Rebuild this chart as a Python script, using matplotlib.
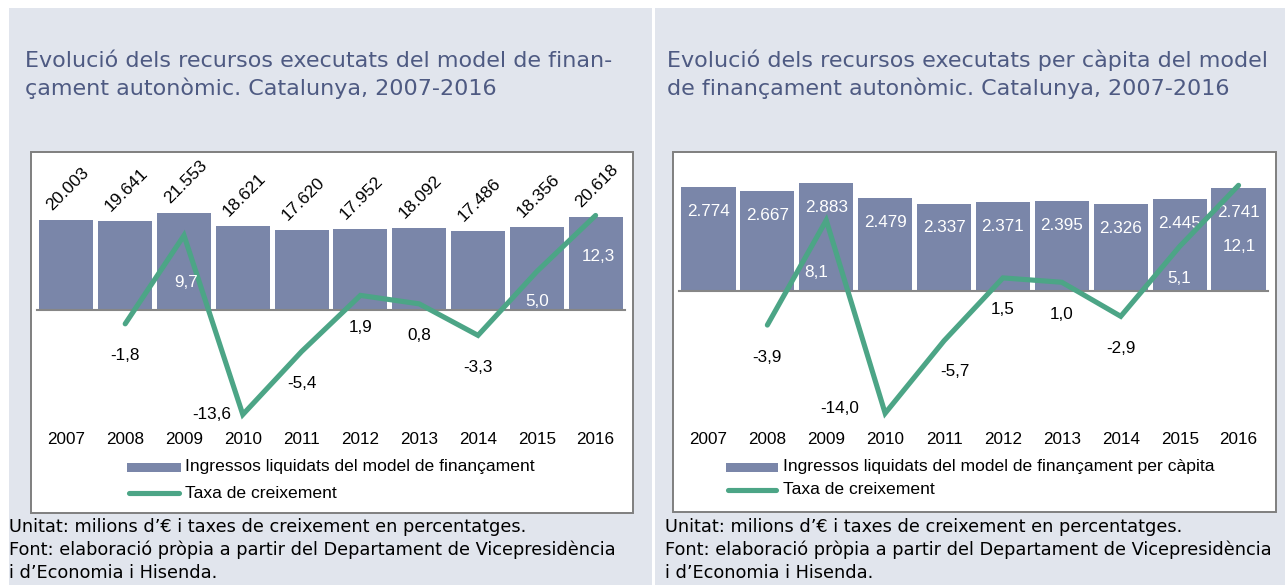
import numpy as np
import matplotlib
matplotlib.use('Agg')
import matplotlib.pyplot as plt
from matplotlib.patches import Rectangle
from matplotlib.lines import Line2D

plt.rcParams['font.family'] = ['Liberation Sans', 'DejaVu Sans']

# ── data ──────────────────────────────────────────────────────────────────────
YEARS = [2007, 2008, 2009, 2010, 2011, 2012, 2013, 2014, 2015, 2016]

total_income = [20003, 19641, 21553, 18621, 17620, 17952, 18092, 17486, 18356, 20618]
total_growth = [np.nan, -1.8, 9.7, -13.6, -5.4, 1.9, 0.8, -3.3, 5.0, 12.3]

capita_income = [2774, 2667, 2883, 2479, 2337, 2371, 2395, 2326, 2445, 2741]
capita_growth = [np.nan, -3.9, 8.1, -14.0, -5.7, 1.5, 1.0, -2.9, 5.1, 12.1]

TITLE_L = ['Evolució dels recursos executats del model de finan-',
           'çament autonòmic. Catalunya, 2007-2016']
TITLE_R = ['Evolució dels recursos executats per càpita del model',
           'de finançament autonòmic. Catalunya, 2007-2016']
LEG_BAR_L = 'Ingressos liquidats del model de finançament'
LEG_BAR_R = 'Ingressos liquidats del model de finançament per càpita'
LEG_LINE = 'Taxa de creixement'
NOTES = ['Unitat: milions d\u2019€ i taxes de creixement en percentatges.',
         'Font: elaboració pròpia a partir del Departament de Vicepresidència',
         'i d\u2019Economia i Hisenda.']

# ── style ─────────────────────────────────────────────────────────────────────
W, H = 1285, 585
PANEL_BG = '#E1E5ED'
BAR_C = '#7A86A9'
LINE_C = '#4CA586'
TITLE_C = '#4E5A82'
FS = 12.3

def fx(x):
    return x / W

def fy(y):
    return 1 - y / H

def rect(fig, x0, y0, x1, y1, **kw):
    fig.add_artist(Rectangle((fx(x0), fy(y1)), (x1 - x0) / W, (y1 - y0) / H,
                             transform=fig.transFigure, **kw))

def fmt_int(v):
    return f'{v:,}'.replace(',', '.')

def fmt_dec(v):
    return f'{v:.1f}'.replace('.', ',')

fig = plt.figure(figsize=(W / 100, H / 100), dpi=100, facecolor='white')

rect(fig, 9, 8, 652, 585, facecolor=PANEL_BG, edgecolor='none', zorder=-10)
rect(fig, 655, 8, 1285, 585, facecolor=PANEL_BG, edgecolor='none', zorder=-10)


def panel(px, title, income, growth, box, area, ylim1, ylim2,
          rotated, bar_leg, leg_x, leg_y, lab_fix, note_x):
    # titles and box
    for i, line in enumerate(title):
        fig.text(fx(px), fy(67 + 28 * i), line, fontsize=16.0, color=TITLE_C,
                 family='DejaVu Sans', ha='left', va='baseline')
    bx0, by0, bx1, by1 = box
    rect(fig, bx0, by0, bx1, by1, facecolor='white', edgecolor='#7F7F7F',
         linewidth=1.4, zorder=-5)

    x0, y0, x1, y1 = area
    ax = fig.add_axes([fx(x0), fy(y1), (x1 - x0) / W, (y1 - y0) / H])
    ax2 = ax.twinx()
    for a in (ax, ax2):
        a.patch.set_visible(False)
        for s in a.spines.values():
            s.set_visible(False)
        a.set_yticks([])
    ax.set_xlim(-0.5, len(YEARS) - 0.5)
    ax.set_ylim(*ylim1)
    ax2.set_ylim(*ylim2)

    x = np.arange(len(YEARS))
    ax.bar(x, income, width=0.92, color=BAR_C, edgecolor='none', zorder=2)

    ax.spines['bottom'].set_visible(True)
    ax.spines['bottom'].set_position(('data', 0))
    ax.spines['bottom'].set_color('#868686')
    ax.spines['bottom'].set_linewidth(1.5)
    ax.spines['bottom'].set_zorder(3)
    ax.set_xticks(np.arange(-0.5, len(YEARS), 1))
    ax.tick_params(axis='x', length=4, width=1.5, color='#868686',
                   labelbottom=False, direction='out')
    ax2.set_xticks([])

    tr = ax.get_xaxis_transform()
    for i, yr in enumerate(YEARS):
        ax.annotate(str(yr), xy=(i, 0), xycoords=tr,
                    xytext=(0, -(440 - y1) * 0.72), textcoords='offset points',
                    ha='center', va='center', fontsize=FS)

    for i, v in enumerate(income):
        if rotated:
            ax.annotate(fmt_int(v), xy=(i, v), xytext=(1, 5),
                        textcoords='offset points', rotation=45,
                        ha='center', va='bottom', fontsize=12.6)
        else:
            ax.annotate(fmt_int(v), xy=(i, v), xytext=(0, -17.5),
                        textcoords='offset points', ha='center', va='center',
                        fontsize=FS, color='white')

    ax2.plot(x, growth, color=LINE_C, linewidth=3.7,
             solid_joinstyle='miter', solid_capstyle='round', zorder=4)
    for i, g in enumerate(growth):
        if np.isnan(g):
            continue
        dx, dy = lab_fix.get(YEARS[i], (0, -32))
        ax2.annotate(fmt_dec(g), xy=(i, g), xytext=(dx * 0.72, dy * 0.72),
                     textcoords='offset points', ha='center', va='center',
                     fontsize=FS, color='white' if g > 3 else 'black', zorder=5)

    # legend
    lx, tx = leg_x
    rect(fig, lx[0], leg_y[0] - 4.5, lx[1], leg_y[0] + 4.5, facecolor=BAR_C,
         edgecolor='none', zorder=2)
    fig.add_artist(Line2D([fx(lx[0] + 2), fx(lx[1] - 2)], [fy(leg_y[1])] * 2,
                          transform=fig.transFigure, color=LINE_C,
                          linewidth=3.7, solid_capstyle='round'))
    fig.text(fx(tx), fy(leg_y[0]), bar_leg, fontsize=12.6, ha='left', va='center')
    fig.text(fx(tx), fy(leg_y[1]), LEG_LINE, fontsize=12.6, ha='left', va='center')

    for i, line in enumerate(NOTES):
        fig.text(fx(note_x), fy(527 + 23 * i), line, fontsize=12.8,
                 family='DejaVu Sans', ha='left', va='center')


panel(25, TITLE_L, total_income, total_growth,
      box=(31, 152, 633, 513), area=(37, 197, 625, 423),
      ylim1=(-25000, 25000), ylim2=(-14.7, 14.7), rotated=True,
      bar_leg=LEG_BAR_L, leg_x=((127, 181), 185), leg_y=(467, 493),
      lab_fix={2009: (2, -47), 2010: (-31, 0), 2016: (3, -41), 2015: (0, -30)},
      note_x=9)

panel(667, TITLE_R, capita_income, capita_growth,
      box=(673, 152, 1276, 512), area=(679, 160, 1268, 422),
      ylim1=(-3500, 3500), ylim2=(-15, 15), rotated=False,
      bar_leg=LEG_BAR_R, leg_x=((726, 778), 783), leg_y=(467, 490),
      lab_fix={2009: (-10, -52), 2010: (-45, 5), 2011: (11, -31), 2016: (1, -61)},
      note_x=665)

fig.savefig('out.png', dpi=100)
